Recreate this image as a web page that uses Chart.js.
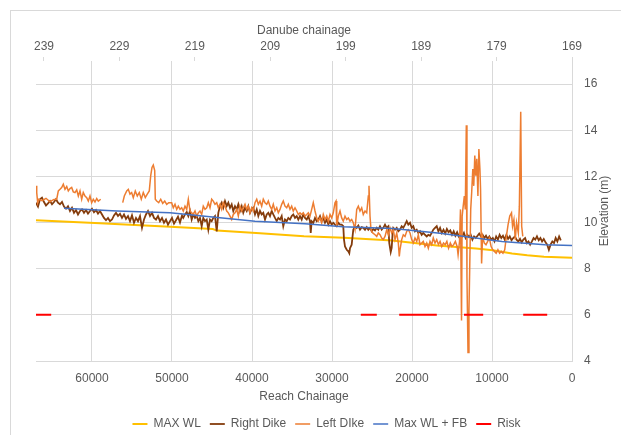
<!DOCTYPE html>
<html>
<head>
<meta charset="utf-8">
<script src="https://cdn.jsdelivr.net/npm/chart.js@4.4.1/dist/chart.umd.min.js"></script>
<style>
    html, body { margin: 0; padding: 0; background: #fff; overflow: hidden; }
    #frame { position: absolute; left: 10px; top: 10px; width: 660px; height: 480px; border: 1px solid #d9d9d9; }
    #chart { position: absolute; left: 0; top: 0; }
</style>
</head>
<body>
<div id="frame"></div>
<canvas id="chart" width="621" height="435"></canvas>
<script>
// --- data (reach chainage in m, elevation in m) ---
const danubeTicks = [169, 179, 189, 199, 209, 219, 229, 239];
const reachTicks = [0, 10000, 20000, 30000, 40000, 50000, 60000];
const elevationTicks = [4, 6, 8, 10, 12, 14, 16];

const maxWL = [
    [67000, 10.10], [59000, 9.97], [50250, 9.82], [44900, 9.72], [44400, 9.65], [39000, 9.54],
    [33500, 9.41], [28500, 9.34], [22500, 9.22], [16900, 9.01], [12000, 8.88], [9900, 8.80],
    [7500, 8.66], [5600, 8.58], [3500, 8.52], [0, 8.47]
];

const maxWLFB = [
    [63500, 10.62], [56875, 10.50], [50250, 10.42], [44625, 10.23], [39625, 10.06], [33375, 9.95],
    [28625, 9.82], [22375, 9.74], [16500, 9.54], [8750, 9.18], [3375, 9.04], [0, 9.00]
];

const rightDike = [
    [67000,10.86],[66750,10.69],[66500,11.01],[66250,11.08],[66000,10.89],[65750,10.74],[65500,10.83],[65250,10.93],[65000,10.79],[64750,10.89],
    [64500,11.01],[64250,10.86],[64000,10.79],[63750,10.89],[63500,10.69],[63250,10.60],[63000,10.71],[62750,10.50],[62500,10.64],[62250,10.42],
    [62000,10.54],[61750,10.35],[61500,10.50],[61250,10.57],[61000,10.42],[60750,10.54],[60500,10.39],[60250,10.50],[60000,10.60],[59750,10.45],
    [59500,10.54],[59250,10.39],[59000,10.50],[58750,10.35],[58500,10.20],[58250,10.10],[58000,10.20],[57750,10.06],[57500,10.13],[57250,10.31],
    [57000,10.42],[56750,10.28],[56500,10.38],[56250,10.20],[56000,10.35],[55750,10.16],[55500,10.28],[55250,10.06],[55000,10.31],[54750,9.99],
    [54500,10.20],[54250,10.06],[54000,10.28],[53750,9.77],[53500,10.13],[53250,10.35],[53000,10.50],[52750,10.28],[52500,10.42],[52250,10.20],
    [52000,10.13],[51750,10.28],[51500,10.06],[51250,10.20],[51000,9.99],[50750,10.13],[50500,9.91],[50250,10.06],
    [50000,10.20],[49750,9.95],[49500,10.10],[49250,10.25],[49000,10.00],[48750,10.30],[48590,10.20],[48375,10.35],[48160,10.45],[47960,10.28],
    [47750,10.50],[47540,10.13],[47340,10.35],[47125,10.20],[46910,10.28],[46710,10.06],[46500,10.20],[46290,9.84],[46090,10.20],[45875,10.06],
    [45660,10.13],[45460,9.69],[45250,10.13],[45040,10.06],[44840,10.20],[44625,10.28],[44410,9.62],[44210,10.42],[44000,10.71],[43790,10.86],
    [43590,10.64],[43375,10.93],[43160,10.71],[42960,10.86],[42750,10.64],[42540,10.79],[42340,10.50],[42125,10.71],[41910,10.57],[41710,10.79],
    [41500,10.50],[41290,10.71],[41090,10.42],[40875,10.64],[40660,10.50],[40460,10.71],[40250,10.42],[40040,10.57],[39840,10.64],[39625,10.35],
    [39410,10.57],[39210,10.28],[39000,10.50],[38790,10.35],[38590,10.42],[38375,10.13],[38160,10.35],[37960,10.42],[37750,10.28],[37540,10.50],
    [37340,10.35],[37125,10.20],[36910,10.06],[36710,10.20],[36500,10.13],[36290,10.28],[36090,9.84],[35875,10.13],[35660,10.06],[35460,10.20],
    [35250,10.13],[35040,10.28],[34840,10.35],[34625,10.20],[34410,10.28],[34210,10.13],[34000,10.28],
    [33790,10.13],[33590,10.35],[33375,10.20],[33160,10.13],[32960,10.28],[32750,10.06],[32660,9.55],[32540,10.06],[32340,9.99],[32125,10.20],
    [31910,10.06],[31710,10.13],[31500,10.28],[31290,10.06],[31090,10.20],[30875,9.99],[30660,10.13],[30460,9.91],[30250,10.06],[30040,9.91],
    [29840,9.99],[29625,9.91],[29410,9.84],[29210,9.99],[29000,9.91],[28790,9.91],[28590,9.84],[28500,9.26],[28375,8.96],[28160,8.82],
    [27960,8.75],[27840,8.67],[27750,8.89],[27540,9.04],[27340,9.69],[27125,9.84],[26910,9.77],[26710,9.87],[26500,9.69],[26290,9.80],
    [26090,9.77],[25875,9.69],[25660,9.80],[25460,9.69],[25250,9.77],[25040,9.62],[24840,9.72],[24625,9.66],[24410,9.77],[24210,9.69],
    [24000,9.84],[23790,9.69],[23590,9.77],[23375,9.91],[23160,9.77],[22960,9.84],[22840,9.11],[22660,8.72],[22540,8.90],[22410,9.62],
    [22340,9.77],[22125,9.69],[21910,9.77],[21710,9.62],[21500,9.69],[21290,9.84],[21090,9.77],[20875,9.91],[20660,10.06],[20460,9.91],
    [20250,9.99],[20040,9.77],[19840,9.84],[19625,9.62],[19410,9.69],[19210,9.55],[19000,9.62],[18790,9.47],[18590,9.55],[18375,9.47],
    [18160,9.40],[17960,9.47],[17750,9.43],[17540,9.55],[17340,9.69],[17125,9.77],
    [16910,9.84],[16700,9.62],[16490,9.77],[16280,9.55],[16060,9.69],[15850,9.52],[15640,9.72],[15430,9.58],[15210,9.66],[15000,9.47],
    [14790,9.62],[14580,9.43],[14360,9.58],[14150,9.40],[13940,9.52],[13730,9.40],[13510,9.55],[13300,9.33],[13090,9.47],[12880,9.37],
    [12660,9.47],[12450,9.26],[12240,9.40],[12030,9.33],[11810,9.43],[11600,9.52],[11390,9.40],[11180,9.47],[10960,9.33],[10750,9.43],
    [10540,9.29],[10330,9.40],[10110,9.26],[9900,9.33],[9690,9.18],[9480,9.40],[9260,9.26],[9050,9.47],[8840,9.33],[8630,9.43],
    [8410,9.26],[8200,9.47],[7990,9.29],[7780,9.40],[7560,9.23],[7350,9.33],[7140,9.40],[6930,9.26],[6710,9.18],[6500,9.29],
    [6290,9.14],[6080,9.26],[5860,9.33],[5650,9.11],[5440,9.18],[5230,9.04],[5010,9.18],[4800,9.33],[4590,9.26],[4380,9.40],
    [4160,9.23],[3950,9.33],[3740,9.18],[3530,9.29],[3310,9.14],[3100,9.04],[2890,8.82],[2680,9.04],[2460,9.18],[2250,9.11],
    [2040,9.33],[1830,9.18],[1610,9.40],[1400,9.23]
];

const leftDike = [
    [67000,11.59],[66910,11.30],[66790,10.86],[66660,11.01],[66250,10.95],[65750,11.05],[65250,10.90],[64750,11.00],[64410,11.01],[64210,11.37],
    [64000,11.44],[63790,11.52],[63590,11.66],[63375,11.44],[63160,11.56],[62960,11.37],[62750,11.47],[62540,11.52],[62340,11.33],[62125,11.30],
    [61910,11.42],[61710,11.15],[61500,11.37],[61290,11.01],[61090,11.30],[60875,11.15],[60660,11.08],[60460,10.93],[60250,11.15],[60040,10.86],
    [59840,11.01],[59625,10.89],[59410,11.04],[59210,10.93],[58910,11.01],[58000,null],
    [56160,10.86],[55960,11.15],[55660,11.37],[55460,11.44],[55250,11.23],[55040,11.30],[54840,11.08],[54590,11.37],[54340,11.15],[54090,11.30],
    [53840,11.01],[53590,11.30],[53340,11.08],[53090,11.23],[52840,11.37],[52660,12.03],[52500,12.39],[52340,12.49],[52160,12.25],[52090,11.01],
    [51910,10.93],[51660,10.86],[51410,11.01],[51160,10.83],[50910,10.93],[50660,10.79],[50410,10.86],[50040,10.86],[49840,10.64],[49625,10.79],
    [49410,10.57],[49210,10.71],[49000,10.57],[48790,10.64],[48590,10.50],[48375,10.71],[48160,10.57],[47960,11.01],[47750,10.50],[47540,10.42],
    [47340,10.35],[47125,10.50],[46910,10.28],[46710,10.42],[46500,10.50],[46290,10.35],[46090,10.71],[45875,10.57],[45660,10.64],[45460,10.86],
    [45250,10.64],[45040,11.01],[44840,10.93],[44625,10.79],[44410,10.86],[44210,10.64],[44000,10.79],[43790,10.57],[43590,10.86],[43375,10.71],
    [43160,10.50],[42960,10.42],[42750,10.28],[42540,10.13],[42340,10.35],[42125,10.42],[41910,10.57],[41710,10.28],[41500,10.71],[41290,10.50],
    [41090,10.64],[40875,10.79],[40660,10.57],[40460,10.71],[40250,10.42],[40040,10.64],[39840,10.50],[39625,10.86],[39410,11.01],[39210,10.79],
    [39000,10.93],[38790,10.71],[38590,11.01],[38375,10.86],[38160,10.79],[37960,10.93],[37750,10.71],[37540,10.57],[37340,10.79],[37125,10.50],
    [36910,10.64],[36710,10.42],[36500,10.57],[36290,10.79],[36090,10.93],[35875,10.71],[35660,10.64],[35460,10.79],[35250,10.57],[35040,10.71],
    [34840,10.50],[34625,10.64],[34410,10.50],[34210,10.35],[34000,10.42],[33790,10.35],[33590,10.42],[33375,10.28],[33160,10.35],[32960,10.42],
    [32750,10.28],[32540,10.57],[32340,10.86],[32125,10.50],[31910,10.20],[31710,10.06],[31500,10.20],[31290,9.99],[31090,10.35],[30875,10.13],
    [30660,10.28],[30460,10.06],[30250,10.35],[30040,10.20],[29840,10.42],[29625,10.86],[29500,10.93],[29410,9.84],[29210,10.28],[29000,10.50],
    [28790,10.20],[28590,10.06],[28375,10.28],[28160,10.13],[27960,10.20],[27750,10.06],[27540,10.13],[27340,9.99],[27125,9.69],[26910,10.57],
    [26710,10.71],[26500,10.50],[26290,10.64],[26090,10.35],[25875,10.50],[25660,10.42],[25460,11.15],[25375,11.59],[25250,10.28],[25125,9.69],
    [24910,9.55],[24625,9.47],[24410,9.40],[24210,9.55],[24000,9.47],[23790,9.33],[23590,9.26],[23375,9.40],[23160,9.69],[22960,9.47],
    [22750,9.77],[22540,9.55],[22340,9.69],[22125,9.26],[21910,9.55],[21710,9.11],[21590,8.53],[21500,8.82],[21290,9.26],[21090,9.47],
    [20875,9.40],[20660,9.62],[20460,9.69],[20250,9.55],[20040,9.26],[19840,9.11],[19625,9.33],[19410,9.18],[19210,9.47],[19000,9.04],
    [18790,9.11],[18590,9.18],[18375,8.96],[18160,9.11],[17960,8.89],[17750,9.18],[17540,9.04],[17340,9.33],[17125,9.11],[16910,9.26],
    [16700,9.04],[16490,9.18],[16280,8.96],[16060,9.11],[15850,9.04],[15640,9.18],[15430,8.89],[15210,9.11],[15000,8.96],[14790,9.04],
    [14580,9.18],[14360,8.96],[14240,8.60],[14060,9.18],[13940,10.57],[13810,5.75],[13730,10.28],[13600,10.71],[13460,11.15],[13340,10.57],
    [13210,14.22],[13130,7.65],[13000,4.37],[12880,6.19],[12790,7.94],[12660,10.57],[12540,11.30],[12400,12.32],[12280,11.59],[12150,12.90],
    [12030,12.03],[11900,12.76],[11760,11.15],[11640,13.19],[11510,12.32],[11430,11.44],[11300,8.23],[11180,9.40],[10960,9.11],[10750,9.04],
    [10540,9.18],[10330,9.33],[10110,8.96],[9900,8.82],[9690,8.75],[9480,8.67],[9260,8.82],[9050,8.67],[8840,8.75],[8630,8.67],
    [8410,8.82],[8200,9.40],[7990,9.91],[7780,10.28],[7560,10.42],[7430,9.84],[7260,10.13],[7090,9.26],[6930,9.99],[6710,9.55],
    [6580,10.71],[6410,14.80],[6290,9.84],[6150,9.40]
];

const risk = [
    [67000, 6], [65100, 6], [65000, null],
    [26400, 6], [24400, 6], [24300, null],
    [21600, 6], [16900, 6], [16800, null],
    [13500, 6], [11100, 6], [11000, null],
    [6100, 6], [3100, 6]
];

const FONT = '"Liberation Sans", Arial, sans-serif';
const TEXT = '#595959';
const GRID = '#d9d9d9';

const toXY = (pairs) => pairs.map(p => ({ x: p[0], y: p[1] }));
const fixedTicks = (values) => (scale) => { scale.ticks = values.map(v => ({ value: v })); };

function lineSet(label, pairs, color, width, order) {
    return {
        label: label,
        data: toXY(pairs),
        borderColor: color,
        backgroundColor: color,
        borderWidth: width,
        pointRadius: 0,
        pointHoverRadius: 0,
        tension: 0,
        spanGaps: false,
        order: order          // higher order is drawn first (underneath)
    };
}

// right-hand axis title reads bottom-to-top, like the original
const elevationTitle = {
    id: 'elevationTitle',
    afterDraw(chart) {
        const { ctx, chartArea } = chart;
        const yScale = chart.scales.y;
        ctx.save();
        ctx.translate(yScale.right - 12, (chartArea.top + chartArea.bottom) / 2);
        ctx.rotate(-Math.PI / 2);
        ctx.font = '12px ' + FONT;
        ctx.fillStyle = TEXT;
        ctx.textAlign = 'center';
        ctx.textBaseline = 'middle';
        ctx.fillText('Elevation (m)', 0, 0);
        ctx.restore();
    }
};

new Chart(document.getElementById('chart'), {
    type: 'line',
    data: {
        datasets: [
            lineSet('MAX WL', maxWL, '#FFC000', 2, 5),
            lineSet('Right Dike', rightDike, '#843C0C', 1.8, 4),
            lineSet('Left DIke', leftDike, '#ED7D31', 1.5, 3),
            lineSet('Max WL + FB', maxWLFB, '#4472C4', 1.5, 2),
            lineSet('Risk', risk, '#FF0000', 2, 1)
        ]
    },
    options: {
        responsive: false,
        animation: false,
        devicePixelRatio: 1,
        layout: { padding: { left: 36, right: 4, top: 10, bottom: -5 } },
        plugins: {
            tooltip: { enabled: false },
            legend: {
                position: 'bottom',
                labels: {
                    usePointStyle: true,
                    pointStyle: 'line',
                    pointStyleWidth: 15,
                    padding: 9,
                    color: TEXT,
                    font: { family: FONT, size: 12 },
                    sort: (a, b) => a.datasetIndex - b.datasetIndex
                }
            }
        },
        scales: {
            x: {
                type: 'linear',
                position: 'bottom',
                reverse: true,
                min: 0,
                max: 67000,
                grid: { color: GRID, drawTicks: false },
                border: { color: GRID },
                ticks: {
                    autoSkip: false,
                    maxRotation: 0,
                    padding: 10,
                    color: TEXT,
                    font: { family: FONT, size: 12 },
                    callback: (v) => String(v)
                },
                afterBuildTicks: fixedTicks(reachTicks),
                title: { display: true, text: 'Reach Chainage', color: TEXT, font: { family: FONT, size: 12 }, padding: { top: 0, bottom: 5 } },
                afterFit: (scale) => { scale.height = 48; }
            },
            x2: {
                type: 'linear',
                position: 'top',
                reverse: true,
                min: 169,
                max: 240.06,
                grid: { drawOnChartArea: false, drawTicks: true, tickLength: 4, color: GRID },
                border: { display: false },
                ticks: {
                    autoSkip: false,
                    padding: 3,
                    maxRotation: 0,
                    color: TEXT,
                    font: { family: FONT, size: 12 }
                },
                afterBuildTicks: fixedTicks(danubeTicks),
                title: { display: true, text: 'Danube chainage', color: TEXT, font: { family: FONT, size: 12 }, padding: { top: 13, bottom: 0 } },
                afterFit: (scale) => { scale.height = 51; }
            },
            y: {
                type: 'linear',
                position: 'right',
                min: 4,
                max: 17,
                grid: { color: GRID, drawTicks: false },
                border: { color: GRID },
                ticks: {
                    autoSkip: false,
                    padding: 12,
                    color: TEXT,
                    font: { family: FONT, size: 12 }
                },
                afterBuildTicks: fixedTicks(elevationTicks),
                afterFit: (scale) => { scale.width = 45; }
            }
        }
    },
    plugins: [elevationTitle]
});
</script>
</body>
</html>
